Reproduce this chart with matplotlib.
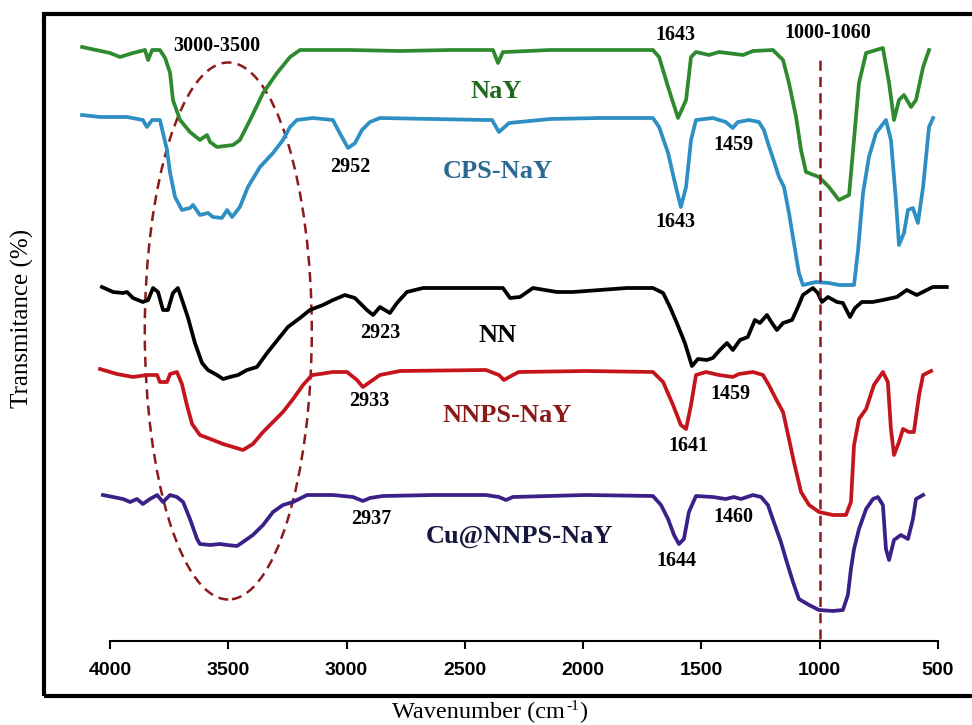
import numpy as np
import matplotlib
matplotlib.use("Agg")
import matplotlib.pyplot as plt
from matplotlib.patches import Ellipse, Rectangle

plt.rcParams['font.family'] = ['Liberation Serif', 'DejaVu Serif']

# === dati (numero d'onda cm-1, trasmittanza a.u. con offset) ===
nay_wn = [4118, 4000, 3958, 3903, 3852, 3839, 3822, 3789, 3767, 3746, 3734, 3704, 3662,
          3620, 3590, 3577, 3548, 3480, 3451, 3408, 3353, 3294, 3239, 3197, 2986, 2774,
          2563, 2381, 2360, 2339, 2326, 2140, 1929, 1705, 1679, 1641, 1599, 1565, 1544,
          1523, 1468, 1426, 1324, 1282, 1198, 1155, 1130, 1100, 1079, 1058, 1003, 961,
          919, 876, 859, 834, 804, 733, 707, 686, 665, 644, 614, 593, 563, 538]
nay_t = [594, 588, 584, 588, 591, 581, 591, 591, 583, 568, 541, 521, 509,
         501, 506, 499, 494, 496, 501, 521, 548, 568, 584, 591, 591, 590,
         591, 591, 578, 589, 589, 591, 591, 591, 584, 554, 523, 541, 584,
         589, 586, 589, 586, 590, 591, 581, 558, 524, 491, 469, 464, 454,
         441, 446, 491, 558, 588, 593, 558, 521, 541, 546, 534, 541, 574, 591]

cps_wn = [4118, 4042, 3979, 3928, 3861, 3844, 3822, 3789, 3776, 3759, 3746, 3725, 3696,
          3662, 3649, 3620, 3586, 3565, 3527, 3505, 3484, 3451, 3417, 3366, 3311, 3269,
          3239, 3210, 3143, 3058, 3029, 2994, 2964, 2935, 2901, 2859, 2411, 2385, 2356,
          2313, 2140, 1929, 1705, 1679, 1641, 1608, 1587, 1565, 1544, 1523, 1452, 1397,
          1368, 1346, 1299, 1257, 1236, 1219, 1198, 1172, 1151, 1130, 1109, 1088, 1071,
          1016, 961, 919, 855, 838, 817, 792, 762, 720, 699, 678, 665, 644, 627, 606,
          585, 563, 538, 521]
cps_t = [526, 524, 524, 524, 521, 514, 521, 521, 508, 491, 468, 444, 431,
         433, 436, 426, 428, 424, 423, 431, 424, 434, 454, 474, 488, 501,
         514, 521, 523, 521, 508, 493, 498, 511, 519, 523, 521, 521, 509,
         518, 522, 523, 523, 514, 488, 454, 434, 454, 501, 521, 523, 519,
         513, 519, 521, 519, 511, 498, 483, 464, 454, 428, 398, 368, 356,
         359, 358, 356, 356, 391, 448, 484, 508, 521, 501, 441, 396, 408, 431, 433,
         418, 454, 514, 523]

nn_wn = [4034, 3987, 3945, 3928, 3903, 3861, 3839, 3818, 3797, 3776, 3755, 3734, 3713,
         3691, 3670, 3641, 3611, 3586, 3548, 3522, 3493, 3459, 3421, 3379, 3336, 3282,
         3248, 3197, 3155, 3100, 3057, 3007, 2965, 2914, 2888, 2859, 2817, 2787, 2745,
         2677, 2576, 2466, 2339, 2309, 2267, 2212, 2111, 2043, 1929, 1815, 1705, 1662,
         1633, 1604, 1570, 1540, 1515, 1477, 1452, 1422, 1392, 1367, 1337, 1304, 1274,
         1253, 1223, 1202, 1181, 1155, 1117, 1092, 1071, 1029, 1008, 991, 965, 927, 902,
         872, 851, 822, 776, 733, 674, 632, 590, 564, 522, 463]
nn_t = [354, 349, 348, 349, 343, 339, 341, 353, 349, 331, 331, 348, 353,
        338, 323, 298, 278, 271, 266, 262, 264, 266, 271, 274, 288, 304,
        314, 323, 331, 336, 341, 346, 343, 331, 326, 334, 328, 338, 349,
        353, 353, 353, 353, 343, 344, 353, 349, 349, 351, 353, 353, 348,
        334, 318, 298, 275, 282, 281, 283, 291, 298, 291, 301, 304, 321,
        318, 326, 318, 311, 318, 321, 334, 346, 353, 348, 339, 344, 339, 338,
        324, 333, 339, 339, 341, 344, 351, 346, 349, 354, 354]

nnps_wn = [4042, 3971, 3903, 3844, 3801, 3789, 3759, 3746, 3717, 3696, 3675, 3653, 3620,
           3565, 3522, 3480, 3438, 3396, 3353, 3311, 3269, 3226, 3184, 3146, 3112, 3058,
           2998, 2956, 2931, 2901, 2859, 2774, 2411, 2356, 2335, 2297, 2272, 1988, 1705,
           1662, 1620, 1587, 1565, 1544, 1523, 1481, 1426, 1367, 1342, 1282, 1240, 1215,
           1185, 1155, 1130, 1109, 1079, 1045, 1003, 944, 889, 868, 855, 834, 804, 771,
           733, 712, 699, 686, 665, 648, 623, 602, 580, 563, 529]
nnps_t = [272, 267, 264, 266, 266, 259, 259, 267, 269, 257, 236, 217, 206,
          201, 197, 194, 191, 197, 209, 219, 229, 242, 256, 266, 267, 269,
          269, 261, 254, 259, 266, 270, 271, 266, 261, 266, 269, 270, 269,
          259, 236, 216, 212, 236, 266, 269, 266, 264, 267, 269, 266, 256,
          242, 229, 202, 179, 149, 136, 129, 126, 126, 139, 196, 222, 232, 256,
          269, 259, 212, 186, 199, 212, 209, 209, 246, 266, 270]

cu_wn = [4030, 3987, 3945, 3915, 3886, 3861, 3831, 3801, 3776, 3746, 3717, 3691, 3662,
         3632, 3620, 3577, 3535, 3505, 3463, 3438, 3396, 3353, 3311, 3269, 3226, 3167,
         3058, 2973, 2931, 2901, 2847, 2630, 2411, 2356, 2326, 2297, 1988, 1705, 1671,
         1641, 1616, 1595, 1574, 1553, 1523, 1452, 1397, 1363, 1333, 1282, 1248, 1219,
         1194, 1164, 1143, 1113, 1088, 1045, 1003, 944, 902, 881, 868, 855, 834, 804,
         775, 754, 733, 720, 707, 686, 657, 627, 606, 593, 563]
cu_t = [146, 144, 142, 139, 142, 137, 142, 146, 139, 146, 144, 139, 122,
        102, 97, 96, 97, 96, 95, 99, 106, 116, 129, 136, 139, 146,
        146, 144, 140, 143, 145, 146, 146, 144, 141, 144, 146, 145, 136,
        122, 106, 97, 102, 129, 145, 144, 142, 144, 142, 146, 144, 136,
        119, 99, 82, 59, 42, 36, 31, 30, 31, 46, 72, 92, 112, 132,
        142, 144, 136, 92, 81, 101, 106, 102, 122, 142, 146]

serie = [
    ("NaY", nay_wn, nay_t, "#2f8a2f", "#1f6a1f"),
    ("CPS-NaY", cps_wn, cps_t, "#2e8fc4", "#2a6a92"),
    ("NN", nn_wn, nn_t, "#000000", "#000000"),
    ("NNPS-NaY", nnps_wn, nnps_t, "#c3151b", "#8b1a1a"),
    ("Cu@NNPS-NaY", cu_wn, cu_t, "#3b2088", "#16163e"),
]

# posizioni delle etichette dei picchi
picchi = ["3000-3500", "1643", "1000-1060", "2952", "1459", "1643", "2923",
          "2933", "1459", "1641", "2937", "1460", "1644"]
picchi_x = [3550, 1612, 965, 2986, 1365, 1612, 2857, 2905, 1379, 1557, 2897, 1365, 1608]
picchi_y = [595, 606, 608, 474, 496, 419, 308, 240, 247, 195, 122, 124, 80]
nomi_x = [2368, 2362, 2362, 2322, 2271]
nomi_y = [549, 469, 306, 226, 104]

fig = plt.figure(figsize=(9.72, 7.25), dpi=100)
ax = fig.add_axes([60/972, 84/725, 900/972, 626/725])

for (nome, wn, t, col, col_txt), nx, ny in zip(serie, nomi_x, nomi_y):
    ax.plot(wn, t, color=col, lw=2.7, solid_joinstyle="round")
    ax.text(nx, ny, nome, color=col_txt, fontsize=19, fontweight="bold",
            ha="center", va="center")

for txt, px, py in zip(picchi, picchi_x, picchi_y):
    ax.text(px, py, txt, fontsize=14.5, fontweight="bold", ha="center", va="center")

# ellisse tratteggiata e linea verticale a 1000
ax.add_patch(Ellipse((3500, 310), 706, 537, fill=False, ls=(0, (4, 2.5)),
                     lw=1.8, color="#8b1a1a"))
ax.plot([1000, 1000], [2, 586], ls=(0, (4, 2.5)), lw=1.8, color="#8b1a1a")

ax.set_xlim(4000 + 50 * 4.227, 4000 - 850 * 4.227)
ax.set_ylim(0, 626)
for s in ["left", "right", "top"]:
    ax.spines[s].set_visible(False)
ax.spines["bottom"].set_bounds(4000, 500)
ax.spines["bottom"].set_linewidth(1.5)
ax.set_yticks([])
ax.set_xticks([4000, 3500, 3000, 2500, 2000, 1500, 1000, 500])
ax.tick_params(axis="x", direction="out", length=6, width=1.5, pad=9)
for lab in ax.get_xticklabels():
    lab.set_family("Liberation Sans")
    lab.set_fontweight("bold")
    lab.set_fontsize(14)

# cornice esterna
fig.patches.append(Rectangle((44/972, (725-696)/725), 935/972, 682/725, fill=False,
                             lw=3, color="black", transform=fig.transFigure))

fig.text(22/972, 1 - 318/725, "Transmitance (%)", rotation=90, fontsize=18,
         ha="center", va="center")

# etichetta asse x con apice "-1" (trattino, come nell'originale)
r = fig.canvas.get_renderer()
y_lab = 1 - 718/725
t1 = fig.text(392/972, y_lab, "Wavenumber (cm", fontsize=17.5, ha="left", va="baseline")
x1 = t1.get_window_extent(r).x1 / 972
t2 = fig.text(x1 + 1/972, y_lab + 8/725, "-1", fontsize=11, ha="left", va="baseline")
x2 = t2.get_window_extent(r).x1 / 972
fig.text(x2 + 1/972, y_lab, ")", fontsize=17.5, ha="left", va="baseline")

plt.savefig("out.png", dpi=100)
